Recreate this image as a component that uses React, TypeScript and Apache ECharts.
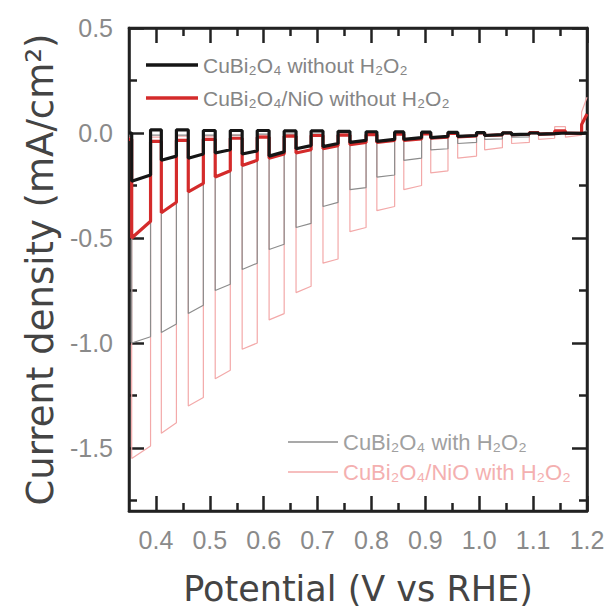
import React, { useEffect, useRef } from "react";
import * as echarts from "echarts";

// Chopped-light potentials (V vs RHE): light switched on / off
const pulseOn = [0.355, 0.41, 0.46, 0.51, 0.56, 0.61, 0.66, 0.71, 0.76, 0.81, 0.86, 0.91, 0.96, 1.01, 1.06, 1.11, 1.16];
const pulseOff = [0.39, 0.438, 0.488, 0.538, 0.588, 0.638, 0.688, 0.738, 0.79, 0.843, 0.893, 0.942, 0.995, 1.043, 1.093, 1.14, 1.19];

// CuBi2O4/NiO with H2O2 (thin pink)
const pinkLightStart = [-1.55, -1.43, -1.3, -1.17, -1.03, -0.89, -0.76, -0.62, -0.47, -0.37, -0.27, -0.19, -0.12, -0.08, -0.05, -0.03, -0.02];
const pinkLightEnd = [-1.49, -1.38, -1.26, -1.13, -1.0, -0.86, -0.73, -0.6, -0.45, -0.35, -0.25, -0.18, -0.11, -0.07, -0.045, -0.025, -0.01];
const pinkDark = [-0.02, -0.02, -0.015, -0.015, -0.01, -0.01, -0.01, -0.01, -0.005, -0.005, 0, 0, 0, 0, 0, 0.005, 0.03, 0.1];
const pinkEnd = 0.17;

// CuBi2O4 with H2O2 (thin gray)
const grayLightStart = [-1.0, -0.95, -0.86, -0.75, -0.65, -0.555, -0.45, -0.35, -0.27, -0.21, -0.13, -0.08, -0.05, -0.03, -0.02, -0.01, -0.005];
const grayLightEnd = [-0.97, -0.91, -0.82, -0.72, -0.62, -0.53, -0.43, -0.33, -0.26, -0.2, -0.12, -0.075, -0.045, -0.028, -0.018, -0.008, -0.004];
const grayDark = [-0.01, -0.01, -0.01, -0.01, -0.01, -0.005, -0.005, -0.005, 0, 0, 0, 0, 0, 0, 0, 0, 0, 0];
const grayEnd = 0.01;

// CuBi2O4 without H2O2 (thick black)
const blackLightStart = [-0.23, -0.13, -0.12, -0.095, -0.1, -0.11, -0.075, -0.065, -0.045, -0.04, -0.03, -0.022, -0.016, -0.012, -0.008, -0.005, -0.003];
const blackLightEnd = [-0.2, -0.11, -0.1, -0.08, -0.085, -0.09, -0.06, -0.05, -0.035, -0.03, -0.022, -0.016, -0.012, -0.008, -0.005, -0.003, -0.002];
const blackDark = [0.0, 0.015, 0.015, 0.012, 0.012, 0.012, 0.01, 0.01, 0.008, 0.006, 0.005, 0.004, 0.003, 0.002, 0.001, 0, 0, 0];
const blackEnd = 0;

// CuBi2O4/NiO without H2O2 (thick red)
const redLightStart = [-0.5, -0.38, -0.28, -0.21, -0.155, -0.12, -0.095, -0.075, -0.055, -0.045, -0.035, -0.025, -0.018, -0.012, -0.008, -0.005, -0.002];
const redLightEnd = [-0.42, -0.33, -0.24, -0.18, -0.13, -0.1, -0.08, -0.06, -0.045, -0.035, -0.028, -0.02, -0.014, -0.009, -0.006, -0.003, 0.0];
const redDark = [-0.03, -0.04, -0.035, -0.03, -0.025, -0.02, -0.015, -0.012, -0.01, -0.008, -0.005, -0.004, -0.002, 0, 0, 0.002, 0.01, 0.04];
const redEnd = 0.09;

const xMajor = [0.4, 0.5, 0.6, 0.7, 0.8, 0.9, 1.0, 1.1, 1.2];
const xMinor = [0.45, 0.55, 0.65, 0.75, 0.85, 0.95, 1.05, 1.15];
const yMajor = [-1.5, -1.0, -0.5, 0.0, 0.5];
const yMinor = [-1.75, -1.25, -0.75, -0.25, 0.25];

const names = {
  black: "CuBi₂O₄ without H₂O₂",
  red: "CuBi₂O₄/NiO without H₂O₂",
  gray: "CuBi₂O₄ with H₂O₂",
  pink: "CuBi₂O₄/NiO with H₂O₂",
};

function chopped(start: number[], end: number[], dark: number[], last: number) {
  const pts: number[][] = [[0.35, dark[0]]];
  for (let i = 0; i < pulseOn.length; i++) {
    pts.push([pulseOn[i], dark[i]]);
    pts.push([pulseOn[i], start[i]]);
    pts.push([pulseOff[i], end[i]]);
    pts.push([pulseOff[i], dark[i + 1]]);
  }
  pts.push([1.2, last]);
  return pts;
}

const FONT = "'Liberation Sans', Arial, sans-serif";
const TITLE_FONT = "'DejaVu Sans', 'Liberation Sans', sans-serif";
const FRAME = "#222";

export default function App() {
  const ref = useRef<HTMLDivElement>(null);
  useEffect(() => {
    if (!ref.current) return;
    const chart = echarts.init(ref.current, undefined, { renderer: "svg" });
    const xBase = {
      type: "value" as const,
      min: 0.35,
      max: 1.2,
      splitLine: { show: false },
    };
    const yBase = {
      type: "value" as const,
      min: -1.8,
      max: 0.5,
      splitLine: { show: false },
    };
    const frameLine = { show: true, onZero: false, lineStyle: { color: FRAME, width: 2.5 } };
    const noLine = { show: false, onZero: false };
    const tick = (vals: number[], len: number) => ({
      show: true,
      inside: true,
      length: len,
      customValues: vals,
      lineStyle: { color: FRAME, width: 2.5 },
    });
    const noLabel = { show: false };
    const lineSeries = (name: string, data: number[][], color: string, width: number, z: number) => ({
      name,
      type: "line",
      data,
      xAxisIndex: 0,
      yAxisIndex: 0,
      showSymbol: false,
      symbol: "none",
      z,
      lineStyle: { color, width },
      itemStyle: { color },
    });
    chart.setOption({
      animation: false,
      textStyle: { fontFamily: FONT },
      grid: {
        left: 129,
        right: 26,
        top: 28,
        bottom: 98,
        show: true,
        backgroundColor: "transparent",
        borderColor: FRAME,
        borderWidth: 2.5,
      },
      xAxis: [
        {
          ...xBase,
          position: "bottom",
          axisLine: frameLine,
          axisTick: tick(xMajor, 15),
          axisLabel: {
            customValues: xMajor,
            formatter: (v: number) => v.toFixed(1),
            color: "#8a8a8a",
            fontSize: 25,
            fontFamily: FONT,
            margin: 16,
          },
          name: "Potential (V vs RHE)",
          nameLocation: "middle",
          nameGap: 60,
          nameTextStyle: { fontSize: 35, color: "#444", fontFamily: TITLE_FONT },
        },
        { ...xBase, position: "bottom", axisLine: noLine, axisTick: tick(xMinor, 8), axisLabel: noLabel },
        { ...xBase, position: "top", axisLine: frameLine, axisTick: tick(xMajor, 15), axisLabel: noLabel },
        { ...xBase, position: "top", axisLine: noLine, axisTick: tick(xMinor, 8), axisLabel: noLabel },
      ],
      yAxis: [
        {
          ...yBase,
          position: "left",
          axisLine: frameLine,
          axisTick: tick(yMajor, 15),
          axisLabel: {
            customValues: yMajor,
            formatter: (v: number) => v.toFixed(1),
            color: "#8a8a8a",
            fontSize: 25,
            fontFamily: FONT,
            margin: 16,
          },
          name: "Current density (mA/cm²)",
          nameLocation: "middle",
          nameGap: 62,
          nameTextStyle: { fontSize: 37, color: "#444", fontFamily: TITLE_FONT },
        },
        { ...yBase, position: "left", axisLine: noLine, axisTick: tick(yMinor, 8), axisLabel: noLabel },
        { ...yBase, position: "right", axisLine: frameLine, axisTick: tick(yMajor, 15), axisLabel: noLabel },
        { ...yBase, position: "right", axisLine: noLine, axisTick: tick(yMinor, 8), axisLabel: noLabel },
      ],
      legend: [
        {
          orient: "vertical",
          left: 141,
          top: 48,
          icon: "rect",
          itemWidth: 52,
          itemHeight: 3.5,
          itemGap: 9,
          textStyle: { fontSize: 21, color: "#858585", fontFamily: FONT, lineHeight: 24 },
          data: [{ name: names.black }, { name: names.red }],
        },
        {
          orient: "vertical",
          left: 283,
          top: 425,
          icon: "rect",
          itemWidth: 50,
          itemHeight: 1.5,
          itemGap: 6,
          textStyle: { fontSize: 22, color: "#a0a0a0", fontFamily: FONT, lineHeight: 24 },
          data: [
            { name: names.gray },
            { name: names.pink, textStyle: { color: "#f4b0b0" } },
          ],
        },
      ],
      series: [
        lineSeries(names.pink, chopped(pinkLightStart, pinkLightEnd, pinkDark, pinkEnd), "#f3a9a9", 1.2, 2),
        lineSeries(names.gray, chopped(grayLightStart, grayLightEnd, grayDark, grayEnd), "#8c8c8c", 1.2, 3),
        lineSeries(names.red, chopped(redLightStart, redLightEnd, redDark, redEnd), "#d42b2b", 3.2, 4),
        lineSeries(names.black, chopped(blackLightStart, blackLightEnd, blackDark, blackEnd), "#151515", 3.2, 5),
      ],
    });
    return () => chart.dispose();
  }, []);
  return <div ref={ref} style={{ width: 613, height: 611, position: "absolute", left: 0, top: 0 }} />;
}
